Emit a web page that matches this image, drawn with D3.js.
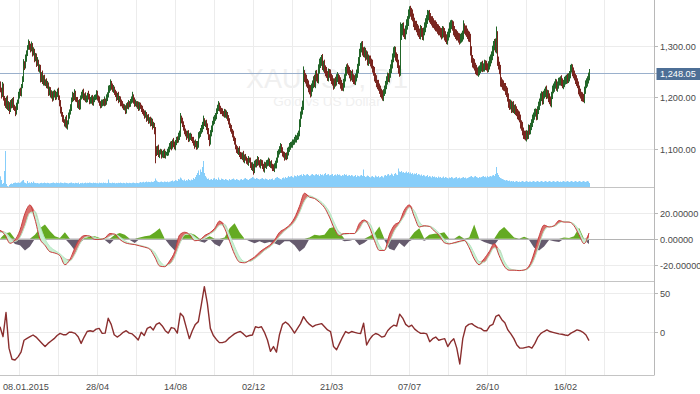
<!DOCTYPE html>
<html>
<head>
<meta charset="utf-8">
<script src="https://cdn.jsdelivr.net/npm/d3@7"></script>
<style>
  body { margin: 0; background: #fff; }
  svg { display: block; font-family: "Liberation Sans", Arial, sans-serif; }
  .axis text { fill: #4a4a4a; font-size: 9.2px; }
</style>
</head>
<body>
<svg width="700" height="394"></svg>
<script>
// daily closes, one per bar (open = previous close)
var firstOpen = 1225;
var closes = [
  1215,1205,1222,1200,1192,1185,1198,1180,1188,1176,
  1190,1185,1195,1183,1178,1172,1182,1192,1205,1212,
  1208,1222,1235,1265,1260,1275,1285,1296,1305,1298,
  1294,1300,1285,1290,1275,1280,1265,1270,1255,1258,
  1235,1245,1230,1238,1228,1232,1222,1225,1210,1215,
  1205,1208,1198,1205,1210,1202,1205,1212,1200,1190,
  1175,1168,1160,1155,1150,1158,1145,1152,1165,1172,
  1180,1195,1205,1200,1208,1198,1195,1185,1190,1182,
  1200,1205,1210,1200,1205,1195,1198,1205,1202,1192,
  1195,1200,1190,1195,1200,1203,1208,1200,1195,1188,
  1185,1190,1192,1188,1195,1190,1200,1205,1215,1218,
  1228,1222,1215,1218,1210,1205,1200,1205,1195,1198,
  1190,1188,1185,1180,1180,1175,1185,1182,1190,1188,
  1192,1195,1202,1195,1188,1190,1185,1188,1180,1185,
  1182,1178,1175,1170,1165,1168,1160,1162,1155,1158,
  1150,1155,1145,1148,1135,1100,1095,1102,1090,1095,
  1095,1088,1090,1095,1088,1092,1092,1095,1100,1105,
  1110,1105,1115,1110,1105,1112,1120,1118,1125,1130,
  1160,1155,1150,1140,1135,1130,1125,1132,1120,1125,
  1125,1120,1118,1112,1108,1112,1105,1110,1125,1130,
  1135,1140,1145,1155,1150,1150,1145,1135,1125,1115,
  1130,1140,1150,1155,1160,1165,1172,1180,1185,1178,
  1175,1172,1170,1168,1172,1165,1168,1160,1155,1145,
  1140,1135,1130,1120,1115,1105,1100,1095,1098,1090,
  1088,1085,1090,1080,1085,1082,1078,1075,1080,1078,
  1070,1065,1068,1060,1070,1075,1072,1080,1075,1070,
  1075,1072,1068,1062,1070,1068,1072,1075,1078,1070,
  1072,1068,1065,1062,1068,1070,1078,1090,1095,1100,
  1105,1098,1092,1088,1085,1088,1085,1095,1100,1105,
  1108,1110,1112,1115,1118,1120,1122,1125,1130,1150,
  1165,1175,1185,1245,1240,1235,1230,1225,1218,1215,
  1210,1220,1225,1235,1228,1245,1240,1235,1255,1265,
  1270,1275,1260,1265,1255,1250,1245,1240,1248,1245,
  1240,1235,1230,1225,1232,1230,1238,1240,1235,1232,
  1225,1222,1220,1228,1238,1250,1258,1255,1250,1245,
  1240,1245,1238,1235,1232,1240,1245,1255,1270,1285,
  1295,1300,1290,1285,1290,1280,1282,1270,1275,1272,
  1268,1265,1255,1250,1240,1235,1228,1225,1220,1215,
  1210,1205,1202,1210,1215,1225,1232,1240,1238,1245,
  1255,1265,1275,1285,1290,1280,1275,1265,1255,1250,
  1320,1330,1335,1325,1322,1330,1340,1348,1360,1368,
  1365,1360,1355,1345,1340,1338,1335,1330,1325,1322,
  1330,1325,1320,1328,1335,1345,1350,1358,1360,1355,
  1350,1348,1345,1342,1340,1338,1335,1332,1330,1328,
  1325,1322,1330,1325,1320,1315,1312,1318,1325,1335,
  1340,1342,1338,1330,1325,1322,1320,1318,1315,1312,
  1315,1318,1320,1335,1332,1330,1325,1322,1318,1315,
  1290,1275,1268,1265,1260,1255,1252,1250,1252,1255,
  1260,1262,1258,1260,1265,1262,1260,1258,1262,1270,
  1275,1280,1290,1300,1305,1295,1320,1270,1262,1255,
  1230,1228,1225,1222,1220,1215,1210,1200,1190,1185,
  1188,1180,1185,1178,1180,1175,1172,1168,1165,1160,
  1150,1145,1135,1130,1128,1125,1130,1128,1140,1138,
  1145,1150,1160,1165,1170,1172,1165,1175,1185,1192,
  1200,1205,1195,1205,1210,1215,1205,1208,1200,1195,
  1190,1205,1215,1220,1225,1228,1220,1225,1230,1232,
  1235,1230,1225,1228,1232,1235,1238,1235,1240,1245,
  1255,1258,1250,1245,1240,1235,1230,1225,1215,1210,
  1205,1202,1200,1198,1215,1225,1230,1235,1240,1248
];
// wick above / below the body, in dollars
var wickUp = [
  6,4,8,5,3,7,4,6,5,3, 5,7,4,6,3,5,8,4,6,5, 7,4,6,9,5,8,6,5,7,4, 6,8,5,7,4,6,5,8,3,6,
  5,4,7,5,6,3,5,7,4,6, 5,6,4,8,5,3,6,5,7,4, 5,7,4,6,3,5,8,4,6,5, 7,5,6,4,8,5,3,6,5,7,
  4,6,5,7,3,5,6,4,8,5, 6,4,5,7,5,3,6,5,4,7, 5,6,4,5,7,3,6,5,8,6, 7,4,5,6,3,5,7,4,6,5,
  4,6,5,3,7,5,4,6,5,3, 5,7,9,4,5,6,3,5,4,6, 5,4,6,3,5,7,4,5,6,4, 5,6,4,5,3,8,6,5,7,4,
  6,5,7,4,6,5,3,6,5,7, 5,6,4,7,5,6,4,5,7,6, 10,5,6,4,7,5,6,4,5,6, 7,5,4,6,5,7,4,6,8,5,
  6,7,8,10,5,6,7,5,6,4, 7,6,5,8,6,5,7,6,8,5, 6,5,7,4,6,5,7,4,6,5, 5,7,4,6,5,7,4,6,5,8,
  5,6,4,7,5,6,4,5,7,4, 6,5,7,4,8,5,6,7,5,4, 6,5,7,4,6,5,7,5,6,4, 5,7,4,6,5,8,6,7,5,6,
  7,5,6,4,7,5,6,8,5,7, 6,5,7,4,6,8,5,7,6,8, 8,7,9,15,8,7,9,6,8,7, 9,7,8,6,9,7,8,6,9,10,
  8,7,9,6,8,7,9,6,8,7, 9,6,8,7,5,8,7,9,6,8, 7,9,6,8,7,9,6,8,7,9, 8,6,9,7,8,6,9,10,8,9,
  10,8,9,7,8,6,9,7,8,6, 9,7,8,6,9,7,8,6,9,7, 8,7,9,6,8,7,9,8,7,10, 9,8,10,12,9,8,7,9,8,7,
  25,12,9,10,8,9,11,9,10,8, 9,8,10,7,9,8,10,7,9,8, 10,8,9,7,10,8,9,11,8,9, 8,7,9,8,7,9,8,7,9,8,
  7,9,8,7,9,8,7,9,8,10, 9,8,7,9,8,7,9,8,7,9, 8,7,9,14,8,7,9,8,7,9, 8,9,7,8,9,7,8,6,8,7,
  8,7,9,6,8,7,9,6,8,9, 8,9,10,9,8,9,17,8,9,7, 8,9,7,8,6,8,7,9,8,7, 8,6,7,8,6,7,8,6,7,8,
  7,6,8,7,6,8,7,6,8,7, 6,8,7,6,8,7,6,8,7,6, 8,7,6,8,7,6,8,7,6,8, 7,6,8,7,6,8,7,6,8,7,
  6,8,7,6,8,7,6,8,7,6, 8,7,6,8,7,6,8,7,6,8, 7,6,8,7,6,8,7,6,8,7
];
var wickDown = [
  5,7,4,6,8,5,7,4,6,8, 4,6,5,7,4,8,5,6,4,7, 5,6,4,5,7,4,6,5,4,6, 7,5,6,4,7,5,6,4,5,7,
  6,5,4,7,5,6,4,5,7,6, 5,7,6,4,5,7,6,4,5,7, 6,5,7,4,6,8,5,7,4,6, 5,6,4,7,5,6,4,5,7,6,
  5,4,7,5,6,4,5,7,6,5, 4,7,5,6,4,5,7,6,5,4, 6,5,7,4,5,6,4,7,5,6, 5,7,4,6,5,4,7,5,6,4,
  7,5,6,4,5,7,6,4,5,7, 6,4,5,7,6,5,4,7,6,5, 4,6,7,5,6,4,7,5,6,5, 6,5,7,4,6,27,8,6,5,7,
  5,6,4,7,5,6,4,5,7,6, 5,7,4,6,5,7,4,6,5,7, 6,5,7,4,6,5,7,4,6,5, 7,4,6,5,7,4,6,5,7,4,
  6,5,7,6,5,7,8,6,7,9, 6,5,7,4,6,5,7,4,6,5, 7,4,6,5,7,4,6,5,7,4, 6,5,7,4,6,5,7,4,6,5,
  7,4,6,5,7,4,6,5,7,4, 6,5,7,9,6,5,7,4,6,5, 7,4,6,5,7,4,6,5,7,4, 6,5,7,4,6,5,7,4,6,5,
  7,5,6,4,7,5,6,4,7,5, 6,5,7,4,6,5,7,4,6,5, 7,6,8,9,10,8,9,7,8,9, 10,8,9,7,8,10,9,7,8,9,
  8,9,7,10,8,9,7,8,9,7, 8,9,7,10,8,9,7,8,9,7, 8,9,7,8,9,7,8,9,7,8, 9,7,8,9,7,8,9,7,8,9,
  7,8,9,7,8,9,7,8,9,7, 8,9,7,8,9,7,8,9,7,8, 9,7,8,9,7,8,9,7,8,9, 7,8,9,7,8,9,7,8,9,10,
  8,9,10,8,9,10,8,9,10,8, 9,10,8,9,10,8,9,10,8,9, 10,8,9,10,8,9,10,8,9,10, 8,9,10,8,9,10,8,9,10,8,
  9,10,8,9,10,8,9,10,8,9, 10,8,9,10,8,9,10,8,9,10, 8,9,10,8,9,10,8,9,10,8, 9,8,10,9,8,10,9,8,10,9,
  8,10,9,8,10,9,8,10,9,8, 10,9,8,10,9,8,10,9,8,10, 9,8,10,9,8,10,9,8,10,9, 8,10,9,8,10,9,8,10,9,8,
  10,9,8,10,9,8,10,9,8,10, 9,8,7,9,8,7,9,8,7,9, 8,7,9,8,7,9,8,7,9,8, 7,9,8,7,9,8,7,9,8,7,
  9,8,7,9,8,7,9,8,7,9, 8,7,9,8,7,9,8,7,9,8, 7,9,8,7,9,8,7,9,8,7
];
var volumes = [
  107,70,30,40,160,360,30,10,5,20, 30,35,30,40,42,45,40,42,45,40,
  45,55,65,70,45,40,35,60,40,45, 38,50,40,55,42,40,38,40,36,35,
  40,42,38,40,44,40,38,42,40,36, 38,40,42,45,40,38,44,40,42,38,
  45,42,40,38,44,42,40,38,35,40, 42,45,38,40,36,42,40,38,44,30,
  40,38,42,36,40,44,38,42,40,45, 42,40,38,44,40,42,38,40,36,44,
  40,42,38,45,40,42,38,40,75,42, 40,38,44,40,42,36,40,38,42,40,
  44,40,38,42,40,36,44,40,38,42, 40,38,42,44,40,38,42,40,38,44,
  50,45,48,52,45,50,55,48,52,50, 48,55,50,52,60,85,65,55,50,48,
  52,55,50,48,55,52,50,55,48,52, 55,60,65,55,60,70,65,60,80,75,
  95,85,70,65,75,60,70,65,80,70, 65,75,70,90,80,100,120,140,165,120,
  175,150,200,260,140,110,95,80,85,70, 75,80,70,85,90,75,80,70,95,75,
  70,85,80,75,70,80,75,70,65,80, 70,75,80,85,75,70,80,75,70,65,
  75,80,70,75,85,90,80,75,70,80, 85,90,100,95,85,80,90,85,80,75,
  80,85,90,80,75,85,80,75,70,80, 75,80,85,70,75,90,95,100,90,85,
  80,75,90,95,85,100,90,95,110,100, 105,110,100,95,115,110,105,120,110,115,
  120,125,110,130,120,115,125,130,120,110, 115,125,130,120,115,125,130,120,125,110,
  130,120,125,115,130,140,120,125,130,115, 120,125,130,110,120,125,115,130,120,125,
  115,110,120,115,130,120,125,110,115,120, 110,120,115,105,110,120,100,115,110,105,
  115,120,110,175,110,100,105,115,110,100, 95,105,110,100,95,115,105,100,110,95,
  100,110,105,95,115,120,110,125,130,115, 120,135,125,110,130,140,125,120,185,155,
  150,160,145,150,140,145,155,140,150,135, 145,130,140,125,135,130,140,120,130,125,
  115,125,110,120,115,105,110,120,100,110, 105,95,110,100,105,95,100,90,105,95,
  100,90,95,105,90,100,95,90,85,95, 90,100,95,85,90,95,100,85,90,95,
  85,90,95,100,90,95,85,90,95,100, 105,110,100,95,105,110,100,95,90,100,
  95,100,105,110,100,105,95,110,100,105, 110,105,115,120,110,130,200,140,120,100,
  90,85,80,75,70,65,70,65,60,65, 55,60,55,60,50,55,60,55,50,55,
  50,55,60,55,50,55,60,55,50,55, 55,50,55,60,55,50,55,60,55,50,
  55,60,55,50,55,60,55,50,55,60, 55,50,55,60,55,50,55,60,55,50,
  55,50,55,60,55,50,55,60,55,50, 55,60,55,50,55,60,55,50,55,60,
  55,50,55,60,55,50,55,60,55,40
];
// oscillator, sampled evenly across the bars
var oscMain = [
  6.5,3,-3.5,-1,6.5,19.5,26,15,0,-5,
  -10,-11,-13,-20,-16,-7,0,2.5,2,-0.5,
  -0.5,0.5,4,3.5,-0.5,-3,-4,-4.5,-5.5,-6.5,
  -8,-14,-21,-21.5,-17,-10,3,5,3,-1.5,
  -1,2.5,4.5,8,13.6,8,-2,-12,-18,-18.5,
  -16.5,-14,-10.3,-7.5,-5,-1,5,7.5,10.5,16,
  25,35,32,31,28,24,16.7,7.7,2.5,4,
  4,4,11.8,14.4,9,-1.3,-9,-9,3,10.5,
  13,22,26,17,9,10,9.5,6,2.5,-3,
  -4,-3,-2,-1.3,-7,-15.5,-20,-15.4,-10,-3.8,
  -13,-21,-24.2,-24.2,-24.5,-24,-21,-11,2,10.5,
  9,10,14,12.8,12.8,10,3,-3.8,4.4
];
var oscSignal = [
  5,5,1,-2,1,10,20,21,10,0,
  -6,-9,-11.5,-15,-17,-12,-4,1,2,1,
  0,0,2,3.5,1.5,-1.5,-3.5,-4.3,-5,-6,
  -7.5,-10.5,-17,-20.5,-19.5,-14,-4,3,4,1.5,
  -1,0.8,3.5,6,10.5,11,3,-6,-14,-17.5,
  -17.5,-15.5,-12.5,-9,-6.5,-3,2,6,9,13,
  20,29,33,31.5,29.5,26,20.5,12,5,3.3,
  4,4,7.5,13,12,4,-5,-9,-3,6,
  11.5,17.5,24,21.5,13,9.5,9.7,7.8,4.3,-0.5,
  -3.5,-3.5,-2.5,-1.6,-4,-11,-17.5,-18,-13,-7,
  -8,-17,-22.5,-24,-24.3,-24.2,-22.5,-16,-5,6,
  9.5,9.5,12,13.4,12.8,11.4,6.5,-0.5,0.5
];
var oscHist = [
  0,4,5,-4,-5,-9,-6,3,8,11,
  6,2,0.5,5,-4,-9,-3,0.5,1.5,2,
  0.5,-1,-4,3,4.4,3,-1,-3.3,1,2,
  2.5,5,8,0,-5,-9,-2,3,4.4,3,
  -2,-3,2,-4,-6,1,8,12,5,0,
  -2,-3.5,-2,-3.5,-2.5,-3.5,-5,-2,-2,-5,
  -10,-7,1,3,2.5,3,8,9,5,-2,
  -1.5,-0.5,-5,-3,2,4,9.5,-1,-7.7,-9,
  -3,-6.4,-2,5,8,-1.5,3,3.8,4,5,
  -0.5,-1,2.5,-1.5,1,11,-0.5,-2.5,-3.8,-5,
  6,9,5,1,-0.5,1.5,-1,-7,-9,-6,
  -1,-2,-2.5,1,0.5,2,8.5,-1,-4
];
// lower panel indicator, sampled evenly across the bars
var lowerLine = [
  7,-5.5,25,-20,-34,-35,-31,-25,-10,-7.6,
  -5.5,-3.4,-6,-10,-14,-18,-14,-11,-8,-4,
  -1.3,-3,-3,0,0,-1.3,-5.5,-14,-6,1,
  2,1,4,5,-1.3,-1,17.7,10,-3,-6,
  -3.4,0,2,-1,-2,-5.5,-9.7,0,-4,5,
  7,3,10,12,8,2,-1,6,5,-1,
  24,20,6,-8,2,10,13.5,35,57.7,36.6,
  5,-4,-9,-13,-13,-11.8,-8,-5,-2,0,
  1,-2,-5.5,-4,-3.4,7,6,7,0,-9.7,
  -24,-18,-25,-3,10,13,10,5,-1,5,
  11,19.8,14,10,7,9,10,11,7,3,
  1,-18,-22,-14,-6,1,-1,1,0,-1,
  -1.5,11.4,-16,-9,-4,-1.5,-3,-6,-5,2,
  6,9,8,23,18,10,7,9,4,1,
  -1.3,-1,-2,-11.8,-8,-6,-10,-9,-8,-18,
  -12,-8,-20,-40,-8,7,10,11,8,6,
  5,2,2,8,10,20,22,16,12,3,
  -2,-8,-16,-20,-20,-19,-18,-20,-14,-6,
  -1.3,1,3,1,0,-1,-2,-2.5,-3.4,-4,
  -1,1,3,2,0,-3.4,-10.5
];
var lastPrice = 1248.05;
var dateLabels = ["08.01.2015", "28/04", "14/08", "02/12", "21/03", "07/07", "26/10", "16/02"];
var firstGridBar = 19, gridStepBars = 39;
var priceTicks = [1100, 1200, 1300];
var oscTicks = [-20, 0, 20];
var lowerTicks = [0, 50];

var svg = d3.select("svg"),
    plotW = 654,
    nBars = closes.length;

var x = d3.scaleLinear().domain([0, plotW]).range([0, plotW]);

// panels
var mainTop = 0, mainBot = 187, oscTop = 187, oscBot = 281, lowTop = 281, lowBot = 375;

var yPrice = d3.scaleLinear().domain([1027.2, 1388.2]).range([mainBot, mainTop]);
var yVol = d3.scaleLinear().domain([0, 400]).range([mainBot, mainBot - 40]);
var yOsc = d3.scaleLinear().domain([-32.5, 39.8]).range([oscBot, oscTop]);
var yLow = d3.scaleLinear().domain([-53.9, 64.8]).range([lowBot, lowTop]);

// sampled series -> bar index
function sampleBar(n) {
  return function (i) { return i * (nBars - 1) / (n - 1); };
}
var oscBar = sampleBar(oscMain.length), lowBar = sampleBar(lowerLine.length);

svg.append("rect").attr("width", 700).attr("height", 394).attr("fill", "#fff");

var defs = svg.append("defs");
defs.append("clipPath").attr("id", "clipMain").append("rect")
  .attr("x", 0).attr("y", mainTop).attr("width", plotW).attr("height", mainBot - mainTop);
defs.append("clipPath").attr("id", "clipOsc").append("rect")
  .attr("x", 0).attr("y", oscTop).attr("width", plotW).attr("height", oscBot - oscTop);
defs.append("clipPath").attr("id", "clipLow").append("rect")
  .attr("x", 0).attr("y", lowTop).attr("width", plotW).attr("height", lowBot - lowTop);

// vertical grid
var gridBars = d3.range(firstGridBar, nBars + gridStepBars / 2, gridStepBars);
svg.append("g").selectAll("line")
  .data(gridBars)
  .enter().append("line")
  .attr("x1", function (d) { return Math.round(x(d)) + 0.5; })
  .attr("x2", function (d) { return Math.round(x(d)) + 0.5; })
  .attr("y1", 0).attr("y2", lowBot)
  .attr("stroke", "#ececec");

// horizontal grid
function hgrid(ticks, scale, color) {
  svg.append("g").selectAll("line")
    .data(ticks)
    .enter().append("line")
    .attr("x1", 0).attr("x2", plotW)
    .attr("y1", function (d) { return Math.round(scale(d)) + 0.5; })
    .attr("y2", function (d) { return Math.round(scale(d)) + 0.5; })
    .attr("stroke", color);
}
hgrid(priceTicks, yPrice, "#ececec");
hgrid([-20, 20], yOsc, "#ececec");
hgrid(lowerTicks, yLow, "#ececec");

// watermark
svg.append("text")
  .attr("x", plotW / 2).attr("y", 88)
  .attr("text-anchor", "middle")
  .attr("font-size", 27)
  .attr("fill", "#f0f0f0")
  .text("XAUUSD, D1");
svg.append("text")
  .attr("x", plotW / 2).attr("y", 106)
  .attr("text-anchor", "middle")
  .attr("font-size", 13.5)
  .attr("fill", "#f0f0f0")
  .text("Gold vs US Dollar");

// volume
var main = svg.append("g").attr("clip-path", "url(#clipMain)");
main.selectAll(".vol")
  .data(volumes)
  .enter().append("rect")
  .attr("class", "vol")
  .attr("x", function (d, i) { return x(i); })
  .attr("width", 1)
  .attr("y", function (d) { return yVol(d); })
  .attr("height", function (d) { return yVol(0) - yVol(d); })
  .attr("fill", "#87cefa");

// last price line
main.append("line")
  .attr("x1", 0).attr("x2", plotW)
  .attr("y1", Math.round(yPrice(lastPrice)) + 0.5)
  .attr("y2", Math.round(yPrice(lastPrice)) + 0.5)
  .attr("stroke", "#9ab0cc");

// candles (1px wide, so the high-low stroke covers the body)
var candles = closes.map(function (c, i) {
  var o = i ? closes[i - 1] : firstOpen;
  return { i: i, open: o, close: c,
           high: Math.max(o, c) + wickUp[i], low: Math.min(o, c) - wickDown[i] };
});
main.selectAll(".candle")
  .data(candles)
  .enter().append("rect")
  .attr("class", "candle")
  .attr("x", function (d) { return x(d.i); })
  .attr("width", 1)
  .attr("y", function (d) { return yPrice(d.high); })
  .attr("height", function (d) { return yPrice(d.low) - yPrice(d.high); })
  .attr("fill", function (d) { return d.close >= d.open ? "#226629" : "#7a2620"; });

// oscillator panel
var osc = svg.append("g").attr("clip-path", "url(#clipOsc)");
var histPos = d3.area()
  .x(function (d, i) { return x(oscBar(i)); })
  .y0(yOsc(0))
  .y1(function (d) { return yOsc(Math.max(d, 0)); });
var histNeg = d3.area()
  .x(function (d, i) { return x(oscBar(i)); })
  .y0(yOsc(0))
  .y1(function (d) { return yOsc(Math.min(d, 0)); });
osc.append("path").datum(oscHist).attr("d", histPos).attr("fill", "#64aa22");
osc.append("path").datum(oscHist).attr("d", histNeg).attr("fill", "#665b6e");

osc.append("line")
  .attr("x1", 0).attr("x2", plotW)
  .attr("y1", Math.round(yOsc(0)) + 0.5).attr("y2", Math.round(yOsc(0)) + 0.5)
  .attr("stroke", "#b4b4b4");

var bandUp = d3.area()
  .curve(d3.curveMonotoneX)
  .x(function (d, i) { return x(oscBar(i)); })
  .y0(function (d, i) { return yOsc(oscSignal[i]); })
  .y1(function (d, i) { return yOsc(Math.max(d, oscSignal[i])); });
var bandDown = d3.area()
  .curve(d3.curveMonotoneX)
  .x(function (d, i) { return x(oscBar(i)); })
  .y0(function (d, i) { return yOsc(oscSignal[i]); })
  .y1(function (d, i) { return yOsc(Math.min(d, oscSignal[i])); });
osc.append("path").datum(oscMain).attr("d", bandDown).attr("fill", "#c8f0d2");
osc.append("path").datum(oscMain).attr("d", bandUp).attr("fill", "#d9706c");
osc.append("path").datum(oscSignal)
  .attr("d", d3.line().curve(d3.curveMonotoneX)
    .x(function (d, i) { return x(oscBar(i)); })
    .y(function (d) { return yOsc(d); }))
  .attr("fill", "none").attr("stroke", "#b8e8c4").attr("stroke-width", 1);
osc.append("path").datum(oscMain)
  .attr("d", d3.line().curve(d3.curveMonotoneX)
    .x(function (d, i) { return x(oscBar(i)); })
    .y(function (d) { return yOsc(d); }))
  .attr("fill", "none").attr("stroke", "#c83c3c").attr("stroke-width", 1);

// lower panel
var low = svg.append("g").attr("clip-path", "url(#clipLow)");
low.append("path").datum(lowerLine)
  .attr("d", d3.line()
    .x(function (d, i) { return x(lowBar(i)); })
    .y(function (d) { return yLow(d); }))
  .attr("fill", "none").attr("stroke", "#8a2e2e").attr("stroke-width", 1.4)
  .attr("stroke-linejoin", "round");

// panel borders
[oscTop, oscBot, lowBot].forEach(function (yy) {
  svg.append("line")
    .attr("x1", 0).attr("x2", plotW)
    .attr("y1", yy + 0.5).attr("y2", yy + 0.5)
    .attr("stroke", "#c4c4c4");
});
svg.append("line")
  .attr("x1", plotW + 0.5).attr("x2", plotW + 0.5)
  .attr("y1", 0).attr("y2", lowBot + 0.5)
  .attr("stroke", "#b8b8b8");

// right axes
function rightAxis(ticks, scale, fmt) {
  var g = svg.append("g").attr("class", "axis");
  var t = g.selectAll("g").data(ticks).enter().append("g")
    .attr("transform", function (d) { return "translate(" + plotW + "," + (Math.round(scale(d)) + 0.5) + ")"; });
  t.append("line").attr("x1", 0).attr("x2", 4).attr("stroke", "#b8b8b8");
  t.append("text").attr("x", 6).attr("dy", "0.35em").text(fmt);
}
rightAxis(priceTicks, yPrice, d3.format(",.2f"));
rightAxis(oscTicks, yOsc, function (d) { return d3.format(".5f")(d).replace("\u2212", "-"); });
rightAxis(lowerTicks, yLow, d3.format("d"));

// last price marker
var lp = svg.append("g").attr("class", "axis")
  .attr("transform", "translate(" + plotW + "," + (Math.round(yPrice(lastPrice)) + 0.5) + ")");
lp.append("line").attr("x1", 0).attr("x2", 4).attr("stroke", "#b8b8b8");
lp.append("rect").attr("x", 2.5).attr("y", -5.5).attr("width", 44).attr("height", 12).attr("fill", "#4e6f96");
lp.append("text").attr("x", 6).attr("dy", "0.35em").style("fill", "#fff")
  .text(d3.format(",.2f")(lastPrice));

// date labels on every other grid line
var dates = svg.append("g").attr("class", "axis");
dates.selectAll("text")
  .data(dateLabels)
  .enter().append("text")
  .attr("y", 390)
  .attr("text-anchor", "middle")
  .text(function (d) { return d; })
  .attr("x", function (d, i) {
    var cx = x(firstGridBar + i * 2 * gridStepBars) + 0.5;
    var w = this.getComputedTextLength();
    return Math.max(cx, w / 2 + 3);
  });
</script>
</body>
</html>
